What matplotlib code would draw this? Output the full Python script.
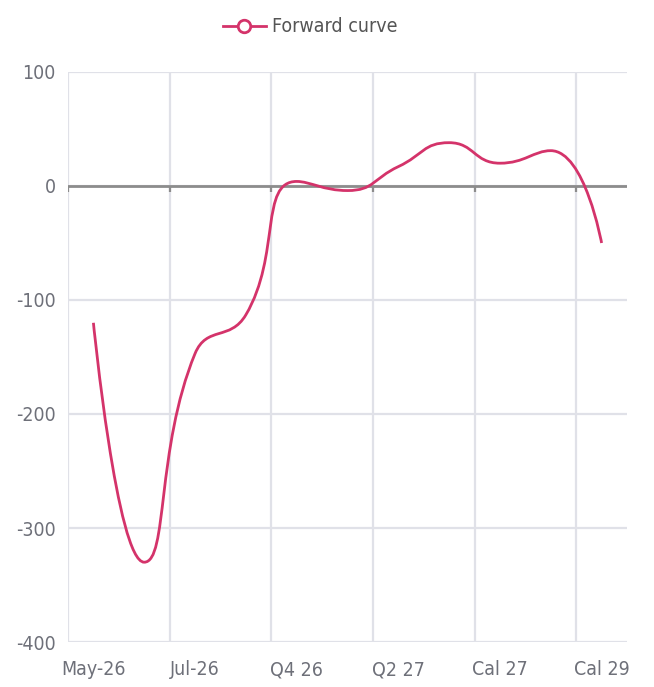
import numpy as np
import matplotlib
matplotlib.use("Agg")
import matplotlib.pyplot as plt
from matplotlib.path import Path
from matplotlib.patches import PathPatch
from matplotlib.lines import Line2D

plt.rcParams['font.family'] = ['DejaVu Sans']
plt.rcParams['font.stretch'] = 'condensed'

# Forward curve by contract period
periods = ['May-26', 'Jun-26', 'Jul-26', 'Aug-26', 'Q4 26', 'Q1 27',
           'Q2 27', 'Q3 27', 'Cal 27', 'Cal 28', 'Cal 29']
values = [-120, -330, -147, -113, 4, -4, 17, 38, 20, 31, -50]

y_ticks = [100, 0, -100, -200, -300, -400]
line_color = '#d4336a'
grid_color = '#e0e1e8'
text_color = '#6e7079'


def smooth_path(px, py, smooth=0.5):
    """Bezier path through points with neighbour-based control points."""
    verts = [(px[0], py[0])]
    codes = [Path.MOVETO]
    cp0 = (px[0], py[0])
    n = len(px)
    for i in range(1, n):
        x, y = px[i], py[i]
        prx, pry = px[i - 1], py[i - 1]
        if i == n - 1:
            cp1 = (x, y)
            nxt = None
        else:
            nx, ny = px[i + 1], py[i + 1]
            vx, vy = nx - prx, ny - pry
            l0 = np.hypot(x - prx, y - pry)
            l1 = np.hypot(nx - x, ny - y)
            r = l1 / (l0 + l1)
            ncx = x + vx * smooth * r
            ncy = y + vy * smooth * r
            ncx = max(min(ncx, max(nx, x)), min(nx, x))
            ncy = max(min(ncy, max(ny, y)), min(ny, y))
            vx, vy = ncx - x, ncy - y
            c1x = x - vx * l0 / l1
            c1y = y - vy * l0 / l1
            c1x = max(min(c1x, max(prx, x)), min(prx, x))
            c1y = max(min(c1y, max(pry, y)), min(pry, y))
            cp1 = (c1x, c1y)
            vx, vy = x - c1x, y - c1y
            nxt = (x + vx * l1 / l0, y + vy * l1 / l0)
        verts += [cp0, cp1, (x, y)]
        codes += [Path.CURVE4] * 3
        cp0 = nxt
    return Path(verts, codes)


fig = plt.figure(figsize=(6.54, 6.87), dpi=100)
ax = fig.add_axes([68 / 654, 1 - 642 / 687, 559 / 654, 570 / 687])

n = len(periods)
xs = np.arange(n) + 0.5
ax.set_xlim(0, n)
ax.set_ylim(-400, 100)

for s in ax.spines.values():
    s.set_visible(False)

# grid
for yv in y_ticks:
    ax.axhline(yv, color=grid_color, lw=1.6, zorder=1)
for k in range(0, n, 2):
    ax.axvline(k, color=grid_color, lw=1.6, zorder=1)

# zero axis with ticks
ax.axhline(0, color='#8c8c8c', lw=2, zorder=2)
for k in range(0, n, 2):
    ax.plot([k, k], [0, -5], color='#8c8c8c', lw=1.6, zorder=2,
            solid_capstyle='butt')

ax.set_yticks(y_ticks)
ax.set_yticklabels([str(v) for v in y_ticks])
ax.set_xticks(xs[::2])
ax.set_xticklabels(periods[::2])
ax.tick_params(length=0, labelsize=14, colors=text_color)
ax.tick_params(axis='y', pad=9)
ax.tick_params(axis='x', pad=13)

# smooth curve computed in display space
fig.canvas.draw()
disp = ax.transData.transform(np.column_stack([xs, values]))
path_disp = smooth_path(disp[:, 0], disp[:, 1])
path_data = Path(ax.transData.inverted().transform(path_disp.vertices),
                 path_disp.codes)
ax.add_patch(PathPatch(path_data, facecolor='none', edgecolor=line_color,
                       lw=2.0, zorder=3, capstyle='butt'))

handle = Line2D([], [], color=line_color, lw=2.0, marker='o', markersize=9,
                markerfacecolor='white', markeredgewidth=2.0)
fig.legend([handle], ['Forward curve'], loc='center',
           bbox_to_anchor=(310 / 654, 1 - 27 / 687), frameon=False,
           fontsize=14, handlelength=2.2, handletextpad=0.3,
           labelcolor='#555555')

fig.savefig('out.png', dpi=100)
